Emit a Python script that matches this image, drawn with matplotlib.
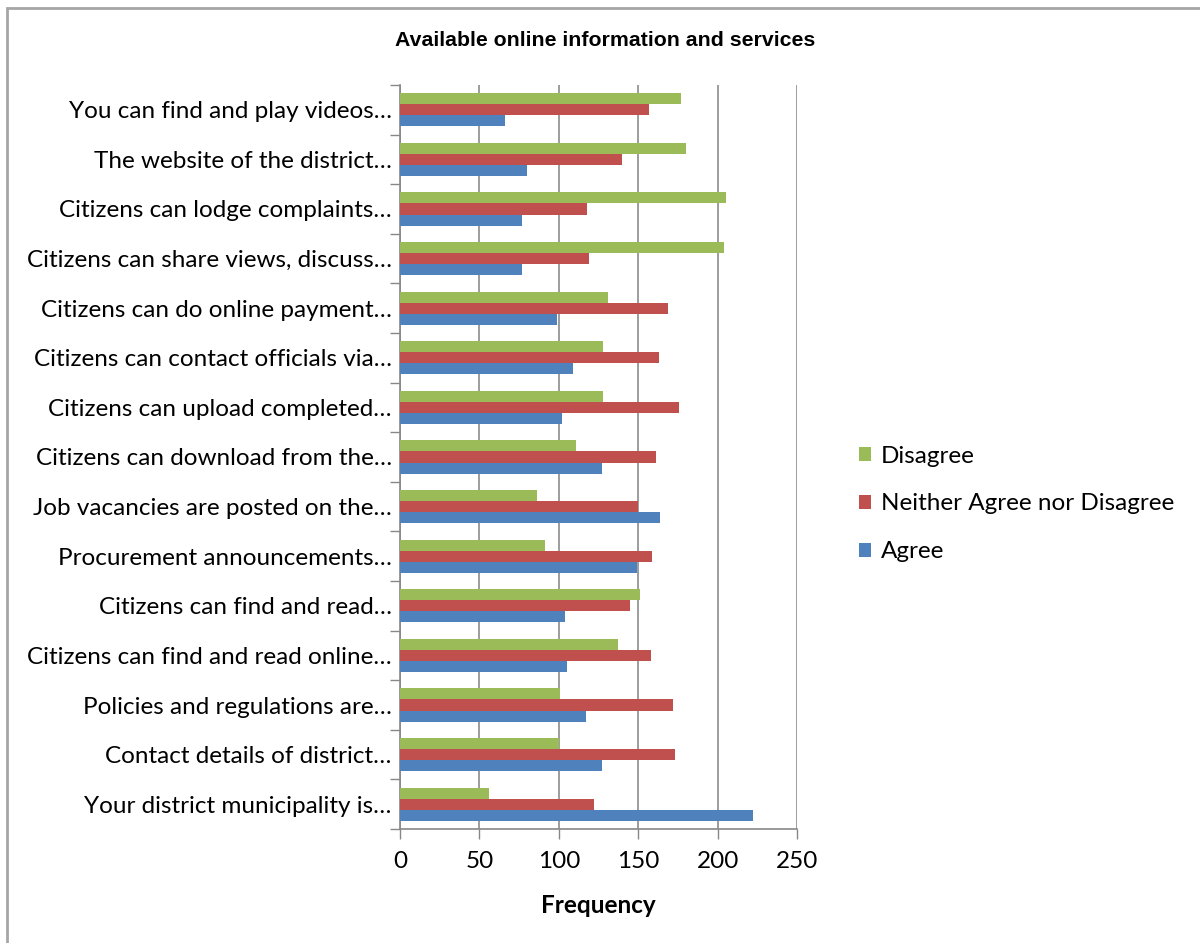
import matplotlib.pyplot as plt
import numpy as np
from matplotlib.patches import Rectangle

plt.rcParams['font.family'] = ['Lato', 'DejaVu Sans']

# Statements, listed bottom to top as they appear on the axis
statements = [
    "Your district municipality is\u2026",
    "Contact details of district\u2026",
    "Policies and regulations are\u2026",
    "Citizens can find and read online\u2026",
    "Citizens can find and read\u2026",
    "Procurement announcements\u2026",
    "Job vacancies are posted on the\u2026",
    "Citizens can download from the\u2026",
    "Citizens can upload completed\u2026",
    "Citizens can contact officials via\u2026",
    "Citizens can do online payment\u2026",
    "Citizens can share views, discuss\u2026",
    "Citizens can lodge complaints\u2026",
    "The website of the district\u2026",
    "You can find and play videos\u2026",
]
agree = [222, 127, 117, 105, 104, 149, 164, 127, 102, 109, 99, 77, 77, 80, 66]
neither = [122, 173, 172, 158, 145, 159, 150, 161, 176, 163, 169, 119, 118, 140, 157]
disagree = [56, 100, 101, 137, 151, 91, 86, 111, 128, 128, 131, 204, 205, 180, 177]

c_agree = "#4F81BD"
c_neither = "#C0504D"
c_disagree = "#9BBB59"

fs = 17.5

fig = plt.figure(figsize=(12, 9.43), dpi=100)
ax = fig.add_axes([400 / 1200, 1 - 829 / 943, 397 / 1200, 744 / 943])

y = np.arange(len(statements))
h = 0.222
ax.barh(y - h, agree, height=h, color=c_agree, label="Agree", zorder=3)
ax.barh(y, neither, height=h, color=c_neither, label="Neither Agree nor Disagree", zorder=3)
ax.barh(y + h, disagree, height=h, color=c_disagree, label="Disagree", zorder=3)

ax.set_xlim(0, 250)
ax.set_ylim(-0.5, len(statements) - 0.5)
ax.set_xticks(np.arange(0, 251, 50))
ax.set_yticks(y)
ax.set_yticklabels(statements, fontsize=fs)
ax.tick_params(axis='y', length=0, pad=6)
ax.set_yticks(np.arange(-0.5, len(statements), 1), minor=True)
ax.tick_params(axis='y', which='minor', length=7, color="#888888", width=1)
ax.tick_params(axis='x', length=7, color="#888888", width=1, labelsize=fs, pad=9)
ax.xaxis.grid(True, color="#8c8c8c", linewidth=1.2, zorder=0)

for s in ["top", "right"]:
    ax.spines[s].set_visible(False)
for s in ["left", "bottom"]:
    ax.spines[s].set_color("#888888")
    ax.spines[s].set_linewidth(1.2)

ax.set_xlabel("Frequency", fontsize=fs, fontweight="bold", labelpad=16)

fig.text(605 / 1200, 1 - 40 / 943, "Available online information and services",
         ha="center", va="center", fontsize=15.3, fontweight="bold",
         family=["Liberation Sans", "DejaVu Sans"])

handles, labels = ax.get_legend_handles_labels()
fig.legend(handles[::-1], labels[::-1], loc="center left",
           bbox_to_anchor=(859 / 1200, 1 - 504 / 943), frameon=False,
           fontsize=fs, handlelength=0.5, handleheight=0.5,
           handletextpad=0.4, labelspacing=1.1, borderpad=0, borderaxespad=0)

# thin frame round the chart area
fig.patches.append(Rectangle((7 / 1200, -0.05), 1.2, 1 - 8 / 943 + 0.05,
                             transform=fig.transFigure, fill=False,
                             edgecolor="#a6a6a6", linewidth=2))

fig.savefig("out.png", dpi=100)
